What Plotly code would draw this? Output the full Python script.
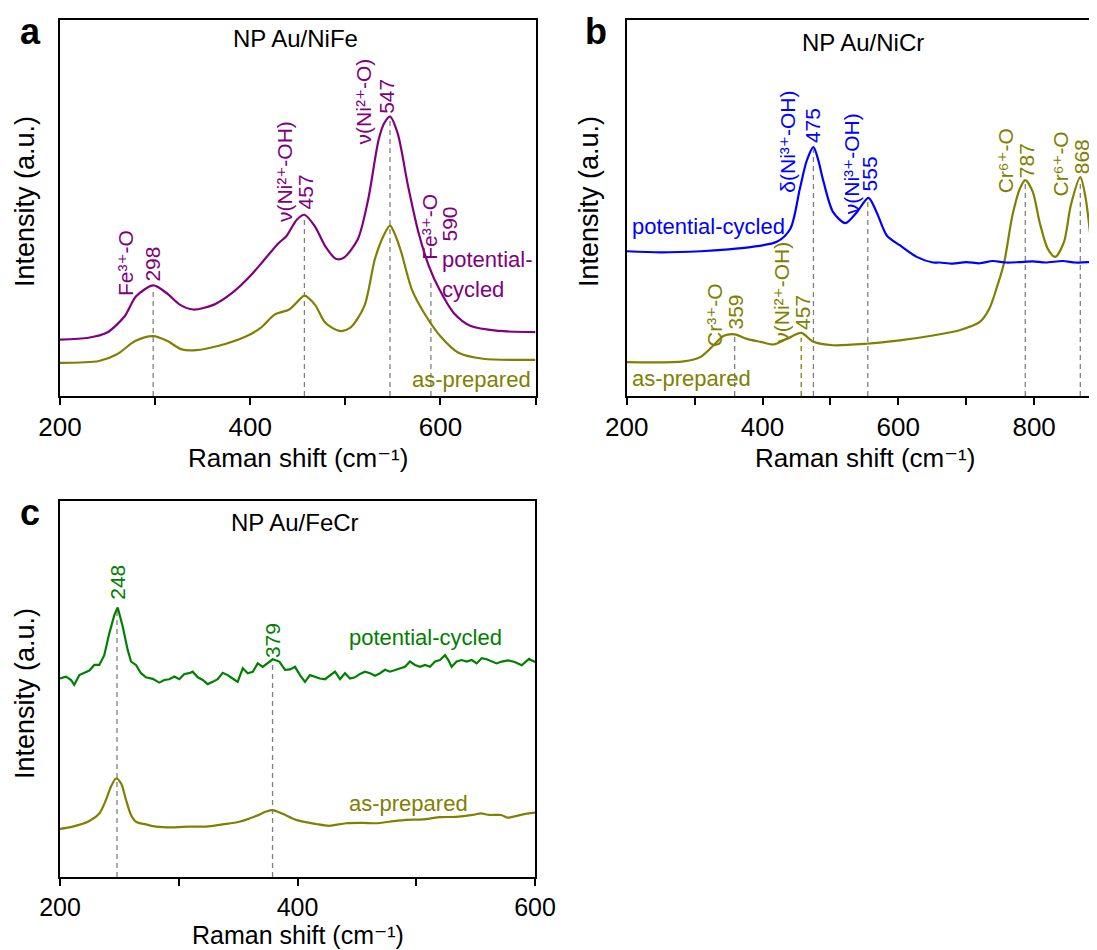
import plotly.graph_objects as go

# The page adds an 8 px body margin, so the figure is drawn 8 px smaller and all
# pixel positions below are given in figure pixels (page pixels minus 8).
W, H = 1089, 942
FONT = "Liberation Sans, Arial, DejaVu Sans, sans-serif"

PURPLE = "#800080"
OLIVE = "#808000"
BLUE = "#0000ff"
GREEN = "#008000"
GREY = "#808080"

# ---------------- Panel a: NP Au/NiFe ----------------
a_cyc_x = [200, 230, 249, 268, 280, 298, 312, 326, 340, 362, 381, 400, 415, 430, 438, 449, 457,
           468, 479, 490, 498, 513, 524, 535, 541, 547, 555, 566, 577, 588, 599, 614, 632, 662, 700]
a_cyc_y = [15.0, 15.5, 16.8, 21.2, 26.5, 29.4, 27.4, 24.3, 23.0, 24.3, 27.4, 31.9, 36.3, 40.7, 42.5,
           46.9, 48.2, 45.1, 39.8, 36.5, 36.7, 41.6, 52.2, 68.1, 72.6, 74.3, 69.9, 55.8, 43.4, 34.5,
           28.3, 22.1, 18.6, 17.3, 17.0]
a_prep_x = [200, 241, 260, 279, 298, 313, 328, 343, 366, 396, 411, 426, 441, 452, 457, 468, 479,
            494, 505, 520, 531, 540, 547, 553, 559, 570, 585, 600, 619, 645, 700]
a_prep_y = [8.8, 9.3, 11.1, 14.6, 15.9, 14.6, 12.4, 12.2, 13.3, 15.9, 18.1, 21.7, 23.0, 25.7, 26.7,
            24.3, 19.5, 17.3, 18.1, 23.9, 36.3, 42.5, 45.3, 42.5, 38.1, 28.3, 21.2, 15.9, 11.5, 9.9, 9.6]
a_peaks = [298, 457, 547, 590]
a_peak_tops = [28.5, 47.5, 73.5, 30.1]

# ---------------- Panel b: NP Au/NiCr ----------------
b_cyc_x = [200, 250, 309, 350, 382, 421, 441, 455, 465, 475, 482, 490, 504, 522, 539, 556, 568,
           583, 602, 627, 651, 661, 680, 700, 720, 739, 759, 778, 798, 817, 842, 861, 881, 891]
b_cyc_y = [38.5, 38.2, 38.5, 39.0, 39.6, 41.0, 44.5, 55.1, 62.5, 66.2, 62.8, 56.9, 48.9, 46.0,
           48.9, 52.7, 48.9, 42.7, 40.1, 37.0, 35.5, 35.5, 35.2, 35.6, 35.3, 35.9, 35.5, 35.6,
           35.8, 35.5, 35.9, 35.5, 35.6, 35.2]
b_prep_x = [200, 284, 309, 328, 343, 359, 377, 397, 416, 436, 457, 475, 504, 553, 602, 651, 690,
            720, 734, 746, 756, 768, 779, 787, 798, 808, 820, 831, 844, 854, 868, 876, 885, 891]
b_prep_y = [9.0, 9.2, 10.4, 13.5, 16.0, 16.4, 15.2, 14.4, 13.7, 15.2, 16.8, 14.4, 13.5, 13.9,
            14.8, 16.1, 17.5, 19.7, 23.2, 29.4, 35.6, 48.0, 55.1, 57.4, 54.3, 46.3, 39.2, 37.0,
            41.0, 50.7, 58.2, 52.5, 39.2, 31.2]
b_peaks_grey = [359, 475, 555, 787, 868]
b_peak_tops_grey = [16.0, 65.6, 52.5, 57.2, 57.6]
b_peak_olive = [457]
b_peak_top_olive = [15.5]

# ---------------- Panel c: NP Au/FeCr ----------------
c_cyc_x = [200, 205.1, 209.3, 212, 216.3, 220.5, 224.7, 228.9, 233.1, 237.3, 241.5, 245.8, 248.6,
           252.8, 257, 259.8, 264, 268.2, 272.4, 278.1, 283.6, 287.8, 292, 296.3, 300.5, 304.7,
           308.9, 311.7, 316, 320.2, 324.4, 328.6, 332.8, 337, 341.2, 345.4, 349.6, 353.9, 358.1,
           362.3, 366.5, 370.7, 374.9, 379.1, 384.7, 389.5, 393.7, 397.9, 402.1, 406.3, 410.5,
           414.7, 418.9, 423.2, 427.4, 431.6, 435.8, 440, 444.2, 448.4, 452.6, 456.8, 461.1, 465.3,
           469.5, 473.7, 477.9, 482.1, 486.3, 490.5, 494.7, 498.9, 503.2, 507.4, 511.6, 515.8, 520,
           524.2, 527, 529.8, 534, 538.2, 542.5, 546.7, 550.9, 555.1, 559.3, 563.5, 567.7, 572,
           577, 582.9, 588.9, 594.9, 600]
c_cyc_y = [52.8, 53.3, 52.4, 51.1, 53.7, 54.2, 54.9, 56.4, 56.4, 59.0, 64.8, 69.7, 71.7, 66.6,
           60.4, 57.3, 56.4, 54.2, 53.1, 52.7, 51.7, 52.4, 52.6, 53.3, 52.6, 54.0, 54.2, 54.6,
           53.1, 52.4, 51.3, 51.9, 52.6, 54.3, 53.7, 52.8, 51.9, 55.5, 54.2, 54.6, 56.8, 55.9,
           56.8, 57.9, 57.3, 55.1, 55.2, 55.9, 53.7, 51.9, 53.7, 53.3, 52.8, 52.6, 53.5, 54.6,
           52.6, 54.2, 52.8, 53.1, 54.0, 54.6, 54.2, 53.5, 54.2, 55.1, 54.6, 55.1, 55.5, 55.9,
           57.3, 56.4, 55.9, 56.4, 55.9, 57.3, 57.7, 59.0, 57.7, 55.9, 57.3, 57.7, 57.3, 57.7,
           56.8, 58.2, 57.9, 57.3, 56.8, 57.3, 57.6, 57.2, 56.3, 58.0, 57.2]
c_prep_x = [200, 210.7, 224.7, 233.1, 238.7, 242.9, 247.2, 251.4, 255.6, 259.8, 264, 272.4,
            280.8, 294.9, 308.9, 322.9, 337, 351, 365, 373.5, 379.1, 387.5, 398.7, 415.6, 426.8,
            440.8, 454.9, 466.1, 477.3, 491.4, 505.4, 519.4, 533.5, 547.5, 554.5, 561.5, 571.4,
            577, 589, 600]
c_prep_y = [12.8, 13.4, 14.9, 16.9, 20.5, 24.0, 26.2, 24.9, 20.5, 16.5, 14.7, 14.0, 13.4, 13.2,
            13.4, 13.4, 14.0, 14.7, 16.2, 17.4, 17.8, 16.8, 15.2, 14.1, 13.6, 14.3, 14.4, 14.3,
            14.7, 15.2, 15.3, 15.9, 16.0, 16.5, 16.9, 16.5, 16.5, 15.8, 16.6, 17.1]
c_peaks = [248, 379]
c_peak_tops = [71.0, 57.5]

fig = go.Figure()


def curve(x, y, color, xa, ya, shape="spline"):
    fig.add_trace(go.Scatter(x=x, y=y, mode="lines", xaxis=xa, yaxis=ya,
                             line=dict(color=color, width=2.2, shape=shape, smoothing=0.8),
                             showlegend=False, hoverinfo="skip"))


def droplines(px, tops, color, xa, ya):
    for p, t in zip(px, tops):
        fig.add_trace(go.Scatter(x=[p, p], y=[0, t], mode="lines", xaxis=xa, yaxis=ya,
                                 line=dict(color=color, width=1.3, dash="5px,4px"),
                                 showlegend=False, hoverinfo="skip"))


droplines(a_peaks, a_peak_tops, GREY, "x", "y")
droplines(b_peaks_grey, b_peak_tops_grey, GREY, "x2", "y2")
droplines(b_peak_olive, b_peak_top_olive, OLIVE, "x2", "y2")
droplines(c_peaks, c_peak_tops, GREY, "x3", "y3")

curve(a_cyc_x, a_cyc_y, PURPLE, "x", "y")
curve(a_prep_x, a_prep_y, OLIVE, "x", "y")
curve(b_prep_x, b_prep_y, OLIVE, "x2", "y2")
curve(b_cyc_x, b_cyc_y, BLUE, "x2", "y2")
curve(c_cyc_x, c_cyc_y, GREEN, "x3", "y3", shape="linear")
curve(c_prep_x, c_prep_y, OLIVE, "x3", "y3")


def xaxis(dom, rng, anchor, mirror=True, fsize=26):
    return dict(domain=dom, range=rng, anchor=anchor, showline=True, linewidth=2,
                linecolor="black", mirror=mirror, ticks="outside", ticklen=7, tickwidth=2,
                tickcolor="black", tick0=200, dtick=200, automargin=False,
                minor=dict(tick0=200, dtick=100, ticks="outside", ticklen=7, tickwidth=2,
                           tickcolor="black", showgrid=False),
                tickfont=dict(family=FONT, size=fsize, color="black"), showgrid=False,
                zeroline=False, fixedrange=True)


def yaxis(dom, anchor, mirror=True):
    return dict(domain=dom, range=[0, 100], showline=True, linewidth=2, linecolor="black",
                mirror=mirror, ticks="", showticklabels=False, showgrid=False, zeroline=False,
                anchor=anchor, fixedrange=True, automargin=False)


ya_dom = [1 - 388 / H, 1 - 12 / H]
yc_dom = [1 - 869 / H, 1 - 493 / H]

fig.update_layout(
    width=W, height=H, margin=dict(l=0, r=0, t=0, b=0, pad=0, autoexpand=False),
    paper_bgcolor="white", plot_bgcolor="white",
    xaxis=xaxis([52 / W, 527.5 / W], [200, 700], "y"),
    yaxis=yaxis(ya_dom, "x"),
    xaxis2=xaxis([618.7 / W, 1.0], [200, 892.6], "y2"),
    yaxis2=yaxis(ya_dom, "x2", mirror=False),
    xaxis3=xaxis([52 / W, 527 / W], [200, 600], "y3", fsize=25),
    yaxis3=yaxis(yc_dom, "x3"),
)

ann = []


def txt(text, x, y, xref, yref, color, size=21, angle=0, xanchor="center", yanchor="middle",
        bold=False):
    if bold:
        text = "<b>" + text + "</b>"
    ann.append(dict(text=text, x=x, y=y, xref=xref, yref=yref, showarrow=False,
                    textangle=angle, xanchor=xanchor, yanchor=yanchor, borderpad=0,
                    font=dict(family=FONT, size=size, color=color)))


# panel a labels
txt("NP Au/NiFe", 448, 95.1, "x", "y", "black", size=24)
txt("Fe³⁺-O", 269.5, 35.4, "x", "y", PURPLE, angle=-90)
txt("298", 297.7, 35.2, "x", "y", PURPLE, angle=-90)
txt("ν(Ni²⁺-OH)", 436.8, 59.6, "x", "y", PURPLE, angle=-90)
txt("457", 458.6, 54.4, "x", "y", PURPLE, angle=-90)
txt("ν(Ni²⁺-O)", 519.5, 78.3, "x", "y", PURPLE, angle=-90)
txt("547", 544, 79.6, "x", "y", PURPLE, angle=-90)
txt("Fe³⁺-O", 589, 45.0, "x", "y", PURPLE, angle=-90)
txt("590", 609.8, 45.8, "x", "y", PURPLE, angle=-90)
txt("potential-", 600.4, 36.3, "x", "y", PURPLE, size=22, xanchor="left")
txt("cycled", 600.4, 28.3, "x", "y", PURPLE, size=22, xanchor="left")
txt("as-prepared", 696, 4.4, "x", "y", OLIVE, size=22, xanchor="right")

# panel b labels
txt("NP Au/NiCr", 548, 94, "x2", "y2", "black", size=24)
txt("δ(Ni³⁺-OH)", 437.3, 67.6, "x2", "y2", BLUE, angle=-90)
txt("475", 472.6, 72.0, "x2", "y2", BLUE, angle=-90)
txt("ν(Ni³⁺-OH)", 531.2, 61.8, "x2", "y2", BLUE, angle=-90)
txt("555", 557.2, 59.0, "x2", "y2", BLUE, angle=-90)
txt("potential-cycled", 206, 45.2, "x2", "y2", BLUE, size=22, xanchor="left")
txt("Cr⁶⁺-O", 757.6, 62.5, "x2", "y2", OLIVE, angle=-90)
txt("787", 788, 62.7, "x2", "y2", OLIVE, angle=-90)
txt("Cr⁶⁺-O", 838.3, 61.6, "x2", "y2", OLIVE, angle=-90)
txt("868", 869.6, 63.6, "x2", "y2", OLIVE, angle=-90)
txt("Cr³⁺-O", 328.3, 21.5, "x2", "y2", OLIVE, angle=-90)
txt("359", 360, 22.3, "x2", "y2", OLIVE, angle=-90)
txt("ν(Ni²⁺-OH)", 428.5, 27.7, "x2", "y2", OLIVE, angle=-90)
txt("457", 457.9, 22.3, "x2", "y2", OLIVE, angle=-90)
txt("as-prepared", 206, 4.6, "x2", "y2", OLIVE, size=22, xanchor="left")

# panel c labels
txt("NP Au/FeCr", 397.7, 94.4, "x3", "y3", "black", size=24)
txt("248", 248.8, 78.5, "x3", "y3", GREEN, angle=-90)
txt("379", 378.5, 63.0, "x3", "y3", GREEN, angle=-90)
txt("potential-cycled", 442.9, 63.8, "x3", "y3", GREEN, size=22, xanchor="left")
txt("as-prepared", 442.9, 19.5, "x3", "y3", OLIVE, size=22, xanchor="left")

# axis titles
xt = "Raman shift (cm⁻¹)"
txt(xt, 289.75 / W, 1 - 450 / H, "paper", "paper", "black", size=26)
txt(xt, 857 / W, 1 - 450 / H, "paper", "paper", "black", size=26)
txt(xt, 289.5 / W, 0.0, "paper", "paper", "black", size=25, yanchor="bottom")
yt = "Intensity (a.u.)"
txt(yt, 17 / W, 1 - 194 / H, "paper", "paper", "black", size=27, angle=-90)
txt(yt, 581 / W, 1 - 194 / H, "paper", "paper", "black", size=27, angle=-90)
txt(yt, 17 / W, 1 - 686 / H, "paper", "paper", "black", size=27, angle=-90)

# panel letters
txt("a", 22 / W, 1 - 24 / H, "paper", "paper", "black", size=36, bold=True)
txt("b", 588 / W, 1 - 24 / H, "paper", "paper", "black", size=36, bold=True)
txt("c", 22 / W, 1 - 504 / H, "paper", "paper", "black", size=36, bold=True)

fig.update_layout(annotations=ann)

fig.write_html("out.html")
